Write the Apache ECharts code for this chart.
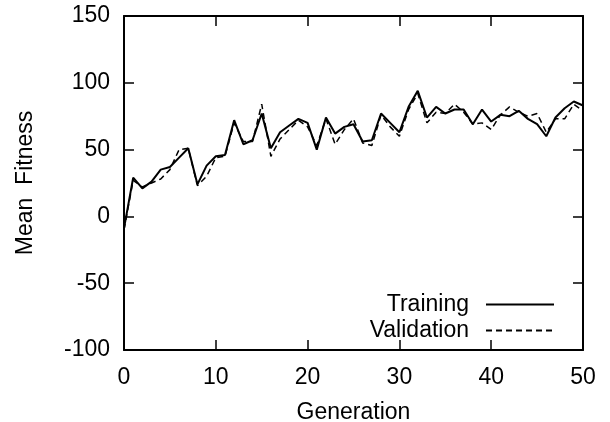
<!DOCTYPE html>
<html>
<head>
<meta charset="utf-8">
<script src="https://cdn.jsdelivr.net/npm/echarts@6/dist/echarts.min.js"></script>
<style>
  html, body { margin: 0; padding: 0; background: #fff; }
  #chart { width: 610px; height: 422px; }
</style>
</head>
<body>
<div id="chart"></div>
<script>
// Mean fitness per generation (0..50)
const training = [
    -9, 29, 21, 26, 35, 37, 44, 51, 24, 38,
    45, 46, 72, 54, 57, 77, 51, 63, 68, 73,
    70, 50, 74, 62, 67, 69, 56, 57, 77, 70,
    63, 82, 94, 74, 82, 77, 80, 80, 69, 80,
    71, 76, 75, 79, 73, 69, 60, 74, 81, 86,
    83
];
const validation = [
    -10, 27, 22, 25, 28, 35, 50, 51, 23, 30,
    44, 45, 70, 56, 56, 84, 45, 58, 65, 72,
    67, 53, 73, 54, 65, 73, 55, 53, 76, 67,
    60, 80, 92, 70, 78, 77, 84, 78, 69, 70,
    65, 76, 82, 78, 75, 77, 63, 73, 73, 84,
    79
];
const xTicks = [0, 10, 20, 30, 40, 50];
const yTicks = [-100, -50, 0, 50, 100, 150];

const font = "'Liberation Sans', Arial, Helvetica, sans-serif";
const fontSize = 23;

function toPoints(values) {
    return values.map((v, i) => [i, v]);
}

const chart = echarts.init(document.getElementById('chart'));

const axisCommon = {
    axisLine: { show: true, onZero: false, lineStyle: { color: '#000', width: 2 } },
    axisTick: { show: true, inside: true, length: 10, lineStyle: { color: '#000', width: 1.5 } },
    splitLine: { show: false }
};

chart.setOption({
    animation: false,
    backgroundColor: '#fff',
    textStyle: { fontFamily: font, color: '#000' },
    grid: { left: 124, right: 27, top: 16, bottom: 72, containLabel: false, outerBoundsMode: 'none' },
    legend: {
        orient: 'vertical',
        align: 'right',
        right: 50,
        top: 288,
        itemGap: 3,
        itemWidth: 68,
        itemHeight: 22,
        itemStyle: { opacity: 0 },
        textStyle: { fontSize: fontSize, fontFamily: font, color: '#000', padding: [0, 12, 0, 0] },
        data: ['Training', 'Validation']
    },
    xAxis: [
        Object.assign({
            type: 'value',
            min: xTicks[0],
            max: xTicks[xTicks.length - 1],
            interval: 10,
            name: 'Generation',
            nameLocation: 'middle',
            nameGap: 51,
            nameTextStyle: { fontSize: fontSize, color: '#000', fontFamily: font },
            axisLabel: { fontSize: fontSize, color: '#000', margin: 16, fontFamily: font }
        }, axisCommon),
        Object.assign({
            type: 'value',
            position: 'top',
            min: xTicks[0],
            max: xTicks[xTicks.length - 1],
            interval: 10,
            axisLabel: { show: false }
        }, axisCommon)
    ],
    yAxis: [
        Object.assign({
            type: 'value',
            min: yTicks[0],
            max: yTicks[yTicks.length - 1],
            interval: 50,
            name: 'Mean  Fitness',
            nameLocation: 'middle',
            nameGap: 87,
            nameTextStyle: { fontSize: fontSize, color: '#000', fontFamily: font },
            axisLabel: { fontSize: fontSize, color: '#000', margin: 14, fontFamily: font }
        }, axisCommon),
        Object.assign({
            type: 'value',
            position: 'right',
            min: yTicks[0],
            max: yTicks[yTicks.length - 1],
            interval: 50,
            axisLabel: { show: false }
        }, axisCommon)
    ],
    series: [
        {
            name: 'Training',
            type: 'line',
            data: toPoints(training),
            symbol: 'none',
            itemStyle: { color: '#000' },
            lineStyle: { color: '#000', width: 2 }
        },
        {
            name: 'Validation',
            type: 'line',
            data: toPoints(validation),
            symbol: 'none',
            itemStyle: { color: '#000' },
            lineStyle: { color: '#000', width: 1.5, type: [6, 4] }
        }
    ]
});
</script>
</body>
</html>
